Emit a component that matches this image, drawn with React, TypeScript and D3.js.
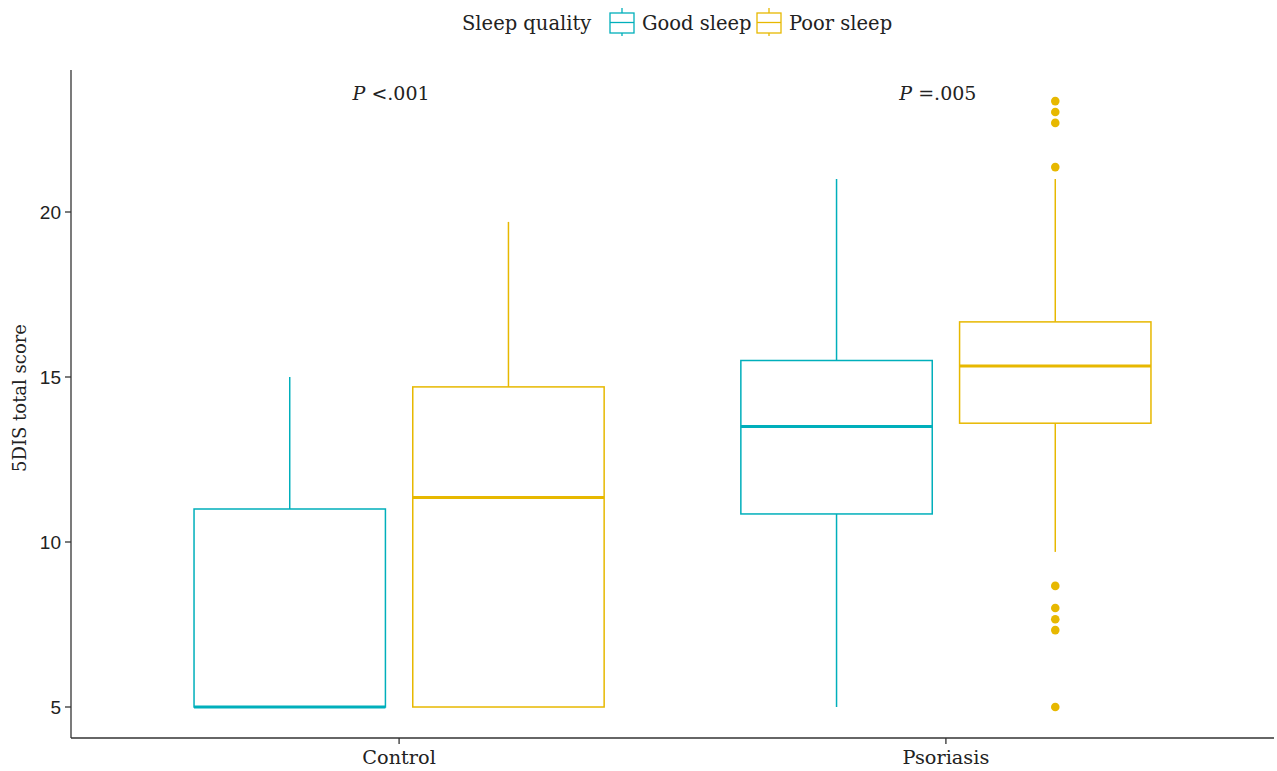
import React from "react";
import * as d3 from "d3";

const groups = ["Control", "Psoriasis"];
const qualities = ["Good sleep", "Poor sleep"];
const colors = ["#00AFBB", "#E7B800"];

// [lower whisker, Q1, median, Q3, upper whisker] per group, per sleep quality
const controlStats = [
  [5, 5, 5, 11, 15],
  [5, 5, 11.35, 14.7, 19.7],
];
const psoriasisStats = [
  [5, 10.85, 13.5, 15.5, 21],
  [9.7, 13.6, 15.33, 16.67, 21],
];
const psoriasisPoorOutliers = [23.36, 23.03, 22.7, 21.36, 8.67, 8.0, 7.66, 7.33, 5];
const pLabels = ["<.001", "=.005"];
const yTicks = [5, 10, 15, 20];

const W = 1277;
const H = 771;
const left = 71;
const right = 1274;
const top = 70;
const bottom = 738;

export default function App() {
  const x = d3.scaleLinear().domain([0.4, 2.6]).range([left, right]);
  const y = d3.scaleLinear().domain([5, 20]).range([707, 212]);
  const unit = x(1) - x(0);
  const boxW = 0.35 * unit;
  const dodge = 0.2;

  const boxes: { g: number; q: number; s: number[]; out: number[] }[] = [];
  [controlStats, psoriasisStats].forEach((stats, g) => {
    stats.forEach((s, q) => {
      boxes.push({ g, q, s, out: g === 1 && q === 1 ? psoriasisPoorOutliers : [] });
    });
  });

  const serif = "'DejaVu Serif', serif";
  const sans = "'Liberation Sans', Arial, sans-serif";

  return (
    <svg width={W} height={H} style={{ display: "block", position: "absolute", left: 0, top: 0 }}>
      <rect width={W} height={H} fill="#fff" />
      {/* legend */}
      <g fontFamily={serif} fontSize={19.5} fill="#222">
        <text x={462} y={30}>Sleep quality</text>
        {qualities.map((q, i) => {
          const kx = i === 0 ? 610 : 757;
          return (
            <g key={q}>
              <line x1={kx + 12} x2={kx + 12} y1={8} y2={36} stroke={colors[i]} strokeWidth={1.3} />
              <rect x={kx} y={13} width={24} height={20} fill="#fff" stroke={colors[i]} strokeWidth={1.3} />
              <line x1={kx} x2={kx + 24} y1={22.5} y2={22.5} stroke={colors[i]} strokeWidth={1.3} />
              <text x={kx + 32} y={30}>{q}</text>
            </g>
          );
        })}
      </g>

      {/* boxes */}
      {boxes.map(({ g, q, s, out }, i) => {
        const cx = x(g + 1 + (q === 0 ? -dodge : dodge));
        const c = colors[q];
        return (
          <g key={i} stroke={c} fill="none">
            <line x1={cx} x2={cx} y1={y(s[3])} y2={y(s[4])} strokeWidth={1.5} />
            <line x1={cx} x2={cx} y1={y(s[1])} y2={y(s[0])} strokeWidth={1.5} />
            <rect x={cx - boxW / 2} y={y(s[3])} width={boxW} height={y(s[1]) - y(s[3])} fill="#fff" strokeWidth={1.5} />
            <line x1={cx - boxW / 2} x2={cx + boxW / 2} y1={y(s[2])} y2={y(s[2])} strokeWidth={3} />
            {out.map((v, j) => (
              <circle key={j} cx={cx} cy={y(v)} r={4.3} fill={c} stroke="none" />
            ))}
          </g>
        );
      })}

      {/* p-value annotations */}
      {pLabels.map((p, i) => (
        <text key={p} x={x(i + 1) - 8} y={100} textAnchor="middle" fontFamily={serif} fontSize={19} fill="#222">
          <tspan fontStyle="italic">P</tspan>
          <tspan> {p}</tspan>
        </text>
      ))}

      {/* axes */}
      <line x1={left} x2={left} y1={top} y2={bottom} stroke="#333" strokeWidth={1.3} />
      <line x1={left} x2={right} y1={bottom} y2={bottom} stroke="#333" strokeWidth={1.3} />
      {yTicks.map((t) => (
        <g key={t}>
          <line x1={left - 6} x2={left} y1={y(t)} y2={y(t)} stroke="#333" strokeWidth={1.3} />
          <text x={left - 10} y={y(t)} dy="0.35em" textAnchor="end" fontFamily={sans} fontSize={19} fill="#222">
            {t}
          </text>
        </g>
      ))}
      {groups.map((g, i) => (
        <g key={g}>
          <line x1={x(i + 1)} x2={x(i + 1)} y1={bottom} y2={bottom + 6} stroke="#333" strokeWidth={1.3} />
          <text x={x(i + 1)} y={764} textAnchor="middle" fontFamily={serif} fontSize={19.3} fill="#222">
            {g}
          </text>
        </g>
      ))}
      <text
        transform={`translate(26, ${398}) rotate(-90)`}
        textAnchor="middle"
        fontFamily={serif}
        fontSize={18}
        fill="#222"
      >
        5DIS total score
      </text>
    </svg>
  );
}
